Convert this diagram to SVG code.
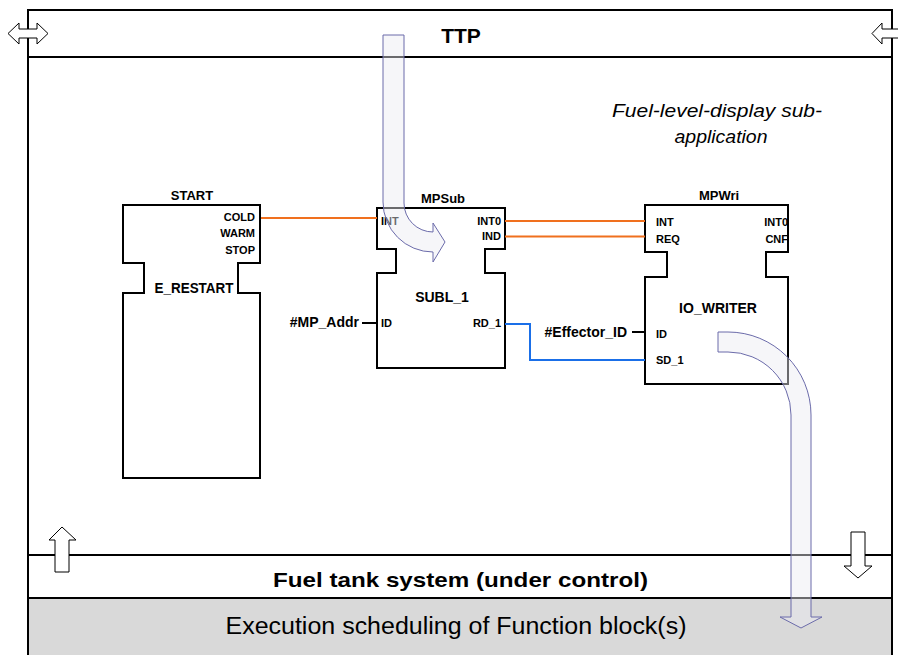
<svg xmlns="http://www.w3.org/2000/svg" width="898" height="655" viewBox="0 0 898 655">
<defs>
<style>
.frame{fill:none;stroke:#000;stroke-width:2}
.blk{fill:#fff;stroke:#000;stroke-width:2}
.t{font-family:"Liberation Sans",Arial,sans-serif;fill:#000}
.b{font-weight:bold}
.p{font-size:11px;font-weight:bold}
.n{font-size:13px;font-weight:bold}
.inst{font-size:14px;font-weight:bold}
.ev{fill:none;stroke:#f0701e;stroke-width:2}
.da{fill:none;stroke:#1a6fe8;stroke-width:2}
.stub{fill:none;stroke:#000;stroke-width:2}
.io{fill:#fff;stroke:#000;stroke-width:1}
.flow{fill:#ececf2;fill-opacity:0.45;stroke:#6b6baa;stroke-width:1}
</style>
</defs>
<rect x="0" y="0" width="898" height="655" fill="#fff"/>
<g id="frame">
<rect x="28" y="598" width="864" height="60" fill="#d9d9d9"/>
<rect class="frame" x="28" y="10" width="864" height="660"/>
<line class="frame" x1="28" y1="57" x2="892" y2="57"/>
<line class="frame" x1="28" y1="555" x2="892" y2="555"/>
<line class="frame" x1="28" y1="598" x2="892" y2="598"/>
<path class="io" d="M8,33.5 L19,23 V29 H37 V23 L48,33.5 L37,44 V38 H19 V44 Z"/>
<path class="io" d="M872,33.5 L882,23 V29 H902 V23 L912,33.5 L902,44 V38 H882 V44 Z"/>
<path class="io" d="M62,527 L76,540 H69 V572 H55 V540 H49 Z"/>
<path class="io" d="M851,532 H865 V566 H872 L858,578 L844,566 H851 Z"/>
<text class="t b" x="461" y="43" font-size="21" text-anchor="middle">TTP</text>
<text class="t b" x="460.5" y="587" font-size="21" text-anchor="middle" textLength="375" lengthAdjust="spacingAndGlyphs">Fuel tank system (under control)</text>
<text class="t" x="456" y="634" font-size="23" text-anchor="middle" textLength="461" lengthAdjust="spacingAndGlyphs">Execution scheduling of Function block(s)</text>
<text class="t" x="717" y="117" font-size="18" font-style="italic" text-anchor="middle" textLength="210" lengthAdjust="spacingAndGlyphs">Fuel-level-display sub-</text>
<text class="t" x="721" y="143" font-size="18" font-style="italic" text-anchor="middle" textLength="93" lengthAdjust="spacingAndGlyphs">application</text>
</g>
<g id="START">
<path class="blk" d="M123,205 H260 V263 H238 V293 H260 V478 H123 V293 H144 V263 H123 Z"/>
<text class="t n" x="192" y="200" text-anchor="middle">START</text>
<text class="t p" x="255" y="221" text-anchor="end">COLD</text>
<text class="t p" x="255" y="237" text-anchor="end">WARM</text>
<text class="t p" x="255" y="254" text-anchor="end">STOP</text>
<text class="t inst" x="194" y="293" text-anchor="middle" textLength="79" lengthAdjust="spacingAndGlyphs">E_RESTART</text>
</g>
<g id="MPSub">
<path class="blk" d="M377,208 H505 V249 H485 V273 H505 V368 H377 V273 H396 V249 H377 Z"/>
<text class="t n" x="443" y="203" text-anchor="middle">MPSub</text>
<text class="t p" x="381" y="225">INT</text>
<text class="t p" x="501" y="225" text-anchor="end">INT0</text>
<text class="t p" x="501" y="240" text-anchor="end">IND</text>
<text class="t inst" x="442" y="302" text-anchor="middle">SUBL_1</text>
<text class="t p" x="381" y="327">ID</text>
<text class="t p" x="501" y="327" text-anchor="end">RD_1</text>
</g>
<g id="MPWri">
<path class="blk" d="M645,205 H788 V252 H766 V277 H788 V384 H645 V277 H667 V252 H645 Z"/>
<text class="t n" x="719" y="200" text-anchor="middle">MPWri</text>
<text class="t p" x="656" y="226">INT</text>
<text class="t p" x="656" y="243">REQ</text>
<text class="t p" x="788" y="226" text-anchor="end">INT0</text>
<text class="t p" x="788" y="243" text-anchor="end">CNF</text>
<text class="t inst" x="718" y="313" text-anchor="middle">IO_WRITER</text>
<text class="t p" x="656" y="338">ID</text>
<text class="t p" x="656" y="364">SD_1</text>
</g>
<g id="params">
<text class="t inst" x="359" y="327" text-anchor="end" font-size="13.5">#MP_Addr</text>
<text class="t inst" x="627" y="337" text-anchor="end" font-size="13.5">#Effector_ID</text>
</g>
<g id="connectors">
<line class="ev" x1="261" y1="218" x2="377" y2="218"/>
<line class="ev" x1="505" y1="221" x2="645" y2="221"/>
<line class="ev" x1="505" y1="236.5" x2="645" y2="236.5"/>
<polyline class="da" points="505,324 530,324 530,360 645,360"/>
<line class="stub" x1="362" y1="323" x2="377" y2="323"/>
<line class="stub" x1="632" y1="332" x2="645" y2="332"/>
</g>
<g id="flows">
<path class="flow" d="M383,35 H404 V203 A29,29 0 0 0 433,232 V223 L445,242 L433,262 V252 A50,50 0 0 1 383,202 Z"/>
<path class="flow" d="M718,332 H728 A83,83 0 0 1 811,415 V617 H822 L801,628 L780,617 H791 V415 A63,63 0 0 0 728,352 H718 Z"/>
</g>
</svg>
